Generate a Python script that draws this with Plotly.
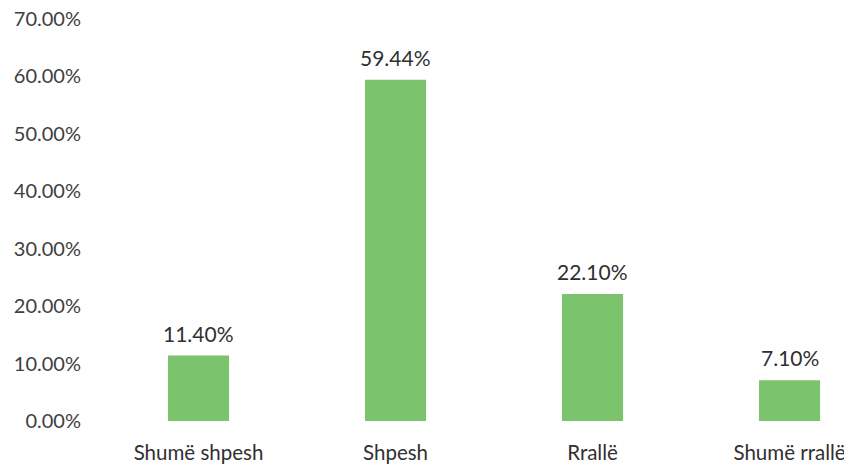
import plotly.graph_objects as go

categories = ["Shumë shpesh", "Shpesh", "Rrallë", "Shumë rrallë"]
values = [11.40, 59.44, 22.10, 7.10]
labels = ["11.40%", "59.44%", "22.10%", "7.10%"]
y_ticks = [0, 10, 20, 30, 40, 50, 60, 70]
y_tick_text = ["0.00%", "10.00%", "20.00%", "30.00%", "40.00%", "50.00%", "60.00%", "70.00%"]

fig = go.Figure(go.Bar(
    x=categories, y=values,
    marker=dict(color="#7cc36d", line=dict(width=0)),
    width=0.31,
))

for c, v, t in zip(categories, values, labels):
    fig.add_annotation(x=c, y=v, text=t, showarrow=False, yanchor="bottom",
                       yshift=8, font=dict(size=21, color="#303030", family="Lato"))

fig.update_layout(
    width=852, height=465,
    margin=dict(l=92, r=8, t=11, b=52, autoexpand=False),
    paper_bgcolor="white", plot_bgcolor="white",
    font=dict(family="Lato", size=20, color="#404040"),
    showlegend=False,
    xaxis=dict(range=[-0.5, 3.317], showgrid=False, showline=False, zeroline=False,
               automargin=False, ticks="", ticklabelstandoff=17, ticklabeloverflow="allow",
               tickfont=dict(size=20.5, color="#303030")),
    yaxis=dict(range=[0, 70], tickvals=y_ticks, ticktext=y_tick_text, showgrid=False,
               showline=False, zeroline=False, automargin=False, ticks="",
               ticklabelstandoff=18, ticklabeloverflow="allow",
               tickfont=dict(size=20, color="#404040")),
)

fig.write_html("out.html")
